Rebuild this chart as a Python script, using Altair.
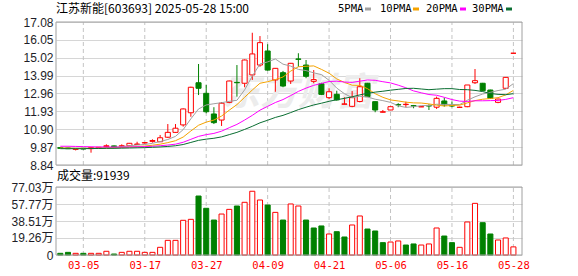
import json
import altair as alt
import pandas as pd

# ---------------- data ----------------
title_text = "江苏新能[603693] 2025-05-28 15:00"
volume_label = "成交量"
last_volume = 91939
watermark_text = "东方财富"

dates = ["02-28", "03-03", "03-04", "03-05", "03-06", "03-07", "03-10", "03-11", "03-12", "03-13",
         "03-14", "03-17", "03-18", "03-19", "03-20", "03-21", "03-24", "03-25", "03-26", "03-27",
         "03-28", "03-31", "04-01", "04-02", "04-03", "04-07", "04-08", "04-09", "04-10", "04-11",
         "04-14", "04-15", "04-16", "04-17", "04-18", "04-21", "04-22", "04-23", "04-24", "04-25",
         "04-28", "04-29", "04-30", "05-06", "05-07", "05-08", "05-09", "05-12", "05-13", "05-14",
         "05-15", "05-16", "05-19", "05-20", "05-21", "05-22", "05-23", "05-26", "05-27", "05-28"]

opens = [9.84, 9.82, 9.74, 9.80, 9.78, 9.82, 9.90, 9.94, 9.92, 9.95,
         10.02, 10.11, 10.20, 10.18, 10.44, 10.72, 11.15, 11.85, 13.58, 12.97,
         11.78, 11.43, 12.45, 13.60, 13.55, 14.03, 14.60, 15.41, 13.74, 14.16,
         13.68, 14.95, 14.60, 13.66, 13.52, 12.72, 12.91, 12.34, 12.22, 12.50,
         13.55, 12.49, 11.88, 12.01, 12.32, 12.32, 12.26, 12.19, 12.26, 12.17,
         12.53, 12.26, 12.16, 12.20, 13.58, 13.55, 13.16, 12.45, 13.26, 15.28]
highs = [9.86, 9.84, 9.80, 9.82, 9.86, 9.88, 10.03, 9.96, 10.03, 10.11,
         10.18, 10.14, 10.32, 10.57, 11.20, 11.20, 12.10, 13.35, 14.66, 13.45,
         12.17, 12.47, 13.70, 14.60, 14.92, 16.46, 16.27, 15.80, 14.43, 14.26,
         14.72, 15.28, 14.89, 14.31, 13.58, 13.26, 13.12, 12.74, 13.10, 13.84,
         13.57, 12.50, 12.01, 12.22, 12.40, 12.49, 12.30, 12.22, 12.34, 12.78,
         12.72, 12.49, 12.20, 13.45, 14.37, 13.57, 13.18, 12.66, 13.91, 15.28]
lows = [9.77, 9.76, 9.68, 9.74, 9.55, 9.80, 9.86, 9.86, 9.86, 9.94,
        10.00, 10.08, 10.13, 10.16, 10.40, 10.70, 11.05, 11.62, 12.87, 11.82,
        11.20, 11.09, 12.40, 12.78, 13.32, 13.74, 14.50, 14.28, 13.06, 13.32,
        13.51, 14.50, 13.84, 13.55, 12.87, 12.64, 12.55, 12.34, 12.17, 12.45,
        12.76, 11.88, 11.86, 12.00, 12.17, 12.17, 12.11, 12.18, 12.01, 12.07,
        12.20, 12.17, 12.14, 12.17, 13.51, 13.10, 12.66, 12.40, 13.24, 15.28]
closes = [9.80, 9.78, 9.78, 9.76, 9.84, 9.86, 9.95, 9.90, 9.95, 10.09,
          10.05, 10.13, 10.25, 10.41, 10.72, 10.96, 12.07, 13.32, 13.26, 11.91,
          11.28, 12.40, 13.68, 13.58, 14.89, 15.24, 15.89, 14.31, 14.41, 13.39,
          14.70, 14.93, 13.95, 13.76, 12.91, 13.06, 12.59, 12.36, 12.72, 13.35,
          12.78, 12.01, 11.91, 12.20, 12.30, 12.34, 12.24, 12.20, 12.24, 12.68,
          12.30, 12.24, 12.17, 13.45, 13.70, 13.12, 12.68, 12.64, 13.89, 15.28]

volumes = [19000, 30000, 19000, 19000, 19000, 19000, 42000, 11000, 30000, 42000,
           42000, 30000, 30000, 87000, 166000, 166000, 393000, 404000, 668000, 529000,
           396000, 464000, 517000, 555000, 597000, 722000, 623000, 566000, 483000, 396000,
           578000, 555000, 396000, 306000, 329000, 238000, 264000, 204000, 340000, 442000,
           294000, 272000, 140000, 147000, 159000, 113000, 125000, 113000, 125000, 306000,
           215000, 140000, 87000, 374000, 585000, 366000, 238000, 170000, 193000, 91939]
vol_dir = ["g", "g", "r", "g", "r", "r", "r", "g", "r", "r",
           "r", "r", "r", "r", "r", "r", "r", "r", "g", "g",
           "g", "r", "r", "g", "r", "r", "r", "g", "r", "g",
           "r", "r", "g", "g", "g", "r", "g", "g", "r", "r",
           "g", "g", "g", "r", "r", "g", "g", "r", "r", "r",
           "g", "g", "r", "r", "r", "g", "g", "r", "r", "r"]

ma5 = [9.80, 9.80, 9.79, 9.79, 9.79, 9.80, 9.84, 9.86, 9.90, 9.95,
       9.99, 10.02, 10.09, 10.19, 10.31, 10.49, 10.88, 11.50, 12.07, 12.30,
       12.37, 12.43, 12.51, 12.57, 13.17, 13.96, 14.66, 14.78, 14.95, 14.65,
       14.54, 14.35, 14.28, 14.15, 14.05, 13.72, 13.27, 12.95, 12.72, 12.80,
       12.76, 12.63, 12.55, 12.45, 12.25, 12.16, 12.20, 12.26, 12.27, 12.34,
       12.33, 12.33, 12.32, 12.57, 12.77, 12.93, 13.03, 13.13, 13.21, 13.53]
ma10 = [9.82, 9.81, 9.80, 9.80, 9.80, 9.81, 9.82, 9.83, 9.85, 9.87,
        9.90, 9.93, 9.98, 10.04, 10.13, 10.24, 10.45, 10.80, 11.13, 11.31,
        11.43, 11.66, 12.00, 12.32, 12.74, 13.16, 13.55, 13.64, 13.76, 13.91,
        14.25, 14.50, 14.53, 14.55, 14.35, 14.13, 13.80, 13.60, 13.44, 13.43,
        13.24, 12.95, 12.74, 12.59, 12.53, 12.46, 12.42, 12.41, 12.36, 12.29,
        12.24, 12.27, 12.29, 12.42, 12.55, 12.63, 12.67, 12.72, 12.88, 13.14]
ma20 = [9.92, 9.92, 9.91, 9.90, 9.89, 9.88, 9.88, 9.87, 9.87, 9.88,
        9.89, 9.90, 9.92, 9.95, 9.99, 10.04, 10.15, 10.32, 10.49, 10.59,
        10.66, 10.79, 10.99, 11.18, 11.43, 11.70, 12.00, 12.22, 12.44, 12.61,
        12.84, 13.08, 13.27, 13.43, 13.54, 13.65, 13.67, 13.62, 13.60, 13.67,
        13.74, 13.72, 13.64, 13.57, 13.44, 13.29, 13.11, 13.00, 12.90, 12.86,
        12.74, 12.61, 12.52, 12.50, 12.54, 12.54, 12.55, 12.56, 12.62, 12.72]
ma30 = [9.78, 9.78, 9.78, 9.78, 9.79, 9.79, 9.80, 9.80, 9.81, 9.82,
        9.83, 9.84, 9.86, 9.88, 9.91, 9.95, 10.02, 10.14, 10.26, 10.33,
        10.38, 10.46, 10.59, 10.72, 10.89, 11.07, 11.27, 11.42, 11.58, 11.70,
        11.86, 12.03, 12.17, 12.30, 12.40, 12.51, 12.60, 12.68, 12.77, 12.88,
        12.97, 13.04, 13.09, 13.15, 13.20, 13.25, 13.26, 13.22, 13.18, 13.21,
        13.24, 13.24, 13.19, 13.18, 13.14, 13.07, 12.96, 12.91, 12.89, 12.95]

ma_names = ["5PMA", "10PMA", "20PMA", "30PMA"]
price_ticks = [8.84, 9.87, 10.90, 11.93, 12.96, 13.99, 15.02, 16.05, 17.08]
vol_ticks = [0, 192600, 385100, 577700, 770300]
date_ticks = ["03-05", "03-17", "03-27", "04-09", "04-21", "05-06", "05-16", "05-28"]

# ---------------- layout / style ----------------
W = 466
PRICE_H = 143
VOL_TOP = 165
TOTAL_H = 233
ma_colors = ["#a0a0a0", "#f5a300", "#ff00ff", "#0a6e32"]
RED = "#ff0000"
GREEN = "#008000"
GRID = "#d6d6d6"
FRAME = "#a0a0a0"
VDASH = "#c4c4c4"

n = len(dates)
x_domain = [-0.56, n + 0.12]
half = 0.33
tick_idx = [dates.index(t) for t in date_ticks]

df = pd.DataFrame({"i": list(range(n)), "date": dates, "open": opens, "high": highs,
                   "low": lows, "close": closes, "vol": volumes})
df["dir"] = ["up" if c >= o else "down" for o, c in zip(opens, closes)]
df["vd"] = ["up" if d == "r" else "down" for d in vol_dir]
df["blo"] = [min(o, c) for o, c in zip(opens, closes)]
df["bhi"] = [max(o, c) for o, c in zip(opens, closes)]
df["x0"] = df["i"] - half
df["x1"] = df["i"] + half
df["v0"] = 0

ma_df = pd.concat([
    pd.DataFrame({"i": list(range(n)), "ma": name, "val": vals})
    for name, vals in zip(ma_names, [ma5, ma10, ma20, ma30])
])

grid_df = pd.DataFrame({"i": tick_idx, "plo": price_ticks[0], "phi": price_ticks[-1],
                        "vlo": 0, "vhi": vol_ticks[-1]})
frame_df = pd.DataFrame({"x0": [x_domain[0]], "x1": [x_domain[1]],
                         "plo": [price_ticks[0]], "phi": [price_ticks[-1]],
                         "vlo": [0], "vhi": [vol_ticks[-1]]})

xs = alt.Scale(domain=x_domain, nice=False, zero=False)
ps = alt.Scale(domain=[price_ticks[0], price_ticks[-1]], range=[PRICE_H, 0], nice=False, zero=False)
vs = alt.Scale(domain=[0, vol_ticks[-1]], range=[TOTAL_H, VOL_TOP], nice=False, zero=False)
stroke_scale = alt.Scale(domain=["up", "down"], range=[RED, GREEN])
fill_scale = alt.Scale(domain=["up", "down"], range=["#ffffff", GREEN])

price_axis = alt.Axis(orient="left", values=price_ticks, format=".2f", grid=True, gridColor=GRID,
                      gridWidth=1, ticks=False, domain=False, labelFont="Liberation Sans",
                      labelFontSize=12, labelColor="#1e1e28", labelPadding=3, labelFlush=False,
                      labelOverlap=False, title=None)
vol_axis = alt.Axis(orient="left", values=vol_ticks,
                    labelExpr="datum.value == 0 ? '0' : format(datum.value / 10000, '.2f') + '万'",
                    grid=True, gridColor=GRID, gridWidth=1, ticks=False, domain=False,
                    labelFont="Liberation Sans, Noto Sans CJK SC", labelFontSize=12,
                    labelColor="#1e1e28", labelPadding=3, labelFlush=False, labelOverlap=False,
                    title=None)
x_axis = alt.Axis(orient="bottom", values=tick_idx, labelExpr=json.dumps(dates) + "[datum.value]",
                  grid=False, ticks=False, domain=False, labelColor=RED,
                  labelFont="DejaVu Sans Mono", labelFontSize=10.5, labelPadding=5,
                  labelFlush=False, labelOverlap=False, title=None)


def X(field):
    return alt.X(field, scale=xs, axis=x_axis)


def PY(field):
    return alt.Y(field, scale=ps, axis=price_axis)


def VY(field):
    return alt.Y(field, scale=vs, axis=vol_axis)


base = alt.Chart(df)

# ---------------- price panel ----------------
p_vgrid = alt.Chart(grid_df).mark_rule(strokeDash=[4, 3], color=VDASH, strokeWidth=1).encode(
    x=X("i:Q"), y=PY("plo:Q"), y2="phi:Q")

watermark = alt.Chart(pd.DataFrame({"t": [watermark_text]})).mark_text(
    align="center", baseline="middle", font="Noto Sans CJK SC", fontSize=38, fontWeight="bold",
    fontStyle="italic", color="#ececec").encode(
    x=alt.value(242), y=alt.value(72), text="t:N")

wick = base.mark_rule(strokeWidth=1).encode(
    x=X("i:Q"), y=PY("low:Q"), y2="high:Q",
    stroke=alt.Stroke("dir:N", scale=stroke_scale, legend=None))

body = base.mark_rect(strokeWidth=1).encode(
    x=X("x0:Q"), x2="x1:Q", y=PY("blo:Q"), y2="bhi:Q",
    stroke=alt.Stroke("dir:N", scale=stroke_scale, legend=None),
    fill=alt.Fill("dir:N", scale=fill_scale, legend=None))

lines = alt.Chart(ma_df).mark_line(strokeWidth=1).encode(
    x=X("i:Q"), y=PY("val:Q"),
    color=alt.Color("ma:N", scale=alt.Scale(domain=ma_names, range=ma_colors), legend=None))

p_frame = alt.Chart(frame_df).mark_rect(fillOpacity=0, stroke=FRAME, strokeWidth=1).encode(
    x=X("x0:Q"), x2="x1:Q", y=PY("plo:Q"), y2="phi:Q")

title = alt.Chart(pd.DataFrame({"t": [title_text]})).mark_text(
    align="left", baseline="middle", font="Noto Sans CJK SC", fontSize=12, color="#000000").encode(
    x=alt.value(0), y=alt.value(-13), text="t:N")

legend_layers = []
legend_text_x = [282, 324, 370, 416]
legend_sw_x = [309, 357, 404, 450]
for name, col, tx, sx in zip(ma_names, ma_colors, legend_text_x, legend_sw_x):
    legend_layers.append(
        alt.Chart(pd.DataFrame({"t": [name]})).mark_text(
            align="left", baseline="middle", font="DejaVu Sans Mono", fontSize=10.5,
            color="#000000").encode(x=alt.value(tx), y=alt.value(-13), text="t:N"))
    legend_layers.append(
        alt.Chart(pd.DataFrame({"t": [name]})).mark_rule(strokeWidth=3, color=col).encode(
            x=alt.value(sx), x2=alt.value(sx + 6), y=alt.value(-13)))

price = alt.layer(p_vgrid, watermark, wick, body, lines, p_frame, title, *legend_layers)

# ---------------- volume panel ----------------
v_vgrid = alt.Chart(grid_df).mark_rule(strokeDash=[4, 3], color=VDASH, strokeWidth=1).encode(
    x=X("i:Q"), y=VY("vlo:Q"), y2="vhi:Q")

vbars = base.mark_rect(strokeWidth=1).encode(
    x=X("x0:Q"), x2="x1:Q", y=VY("v0:Q"), y2="vol:Q",
    stroke=alt.Stroke("vd:N", scale=stroke_scale, legend=None),
    fill=alt.Fill("vd:N", scale=fill_scale, legend=None))

v_frame = alt.Chart(frame_df).mark_rect(fillOpacity=0, stroke=FRAME, strokeWidth=1).encode(
    x=X("x0:Q"), x2="x1:Q", y=VY("vlo:Q"), y2="vhi:Q")

vlabel = alt.Chart(pd.DataFrame({"t": [volume_label + ":" + str(last_volume)]})).mark_text(
    align="left", baseline="middle", font="Noto Sans CJK SC", fontSize=12, color="#000000").encode(
    x=alt.value(1), y=alt.value(VOL_TOP - 11), text="t:N")

volume = alt.layer(v_vgrid, vbars, v_frame, vlabel)

chart = alt.layer(price, volume).resolve_scale(y="independent").resolve_axis(y="independent").properties(
    width=W, height=TOTAL_H,
    padding={"left": 56, "top": 22, "right": 56, "bottom": 21},
    autosize=alt.AutoSizeParams(type="none"),
    background="#ffffff",
).configure_view(stroke=None)

chart.save("out.html", embed_options={"renderer": "svg", "actions": False})
